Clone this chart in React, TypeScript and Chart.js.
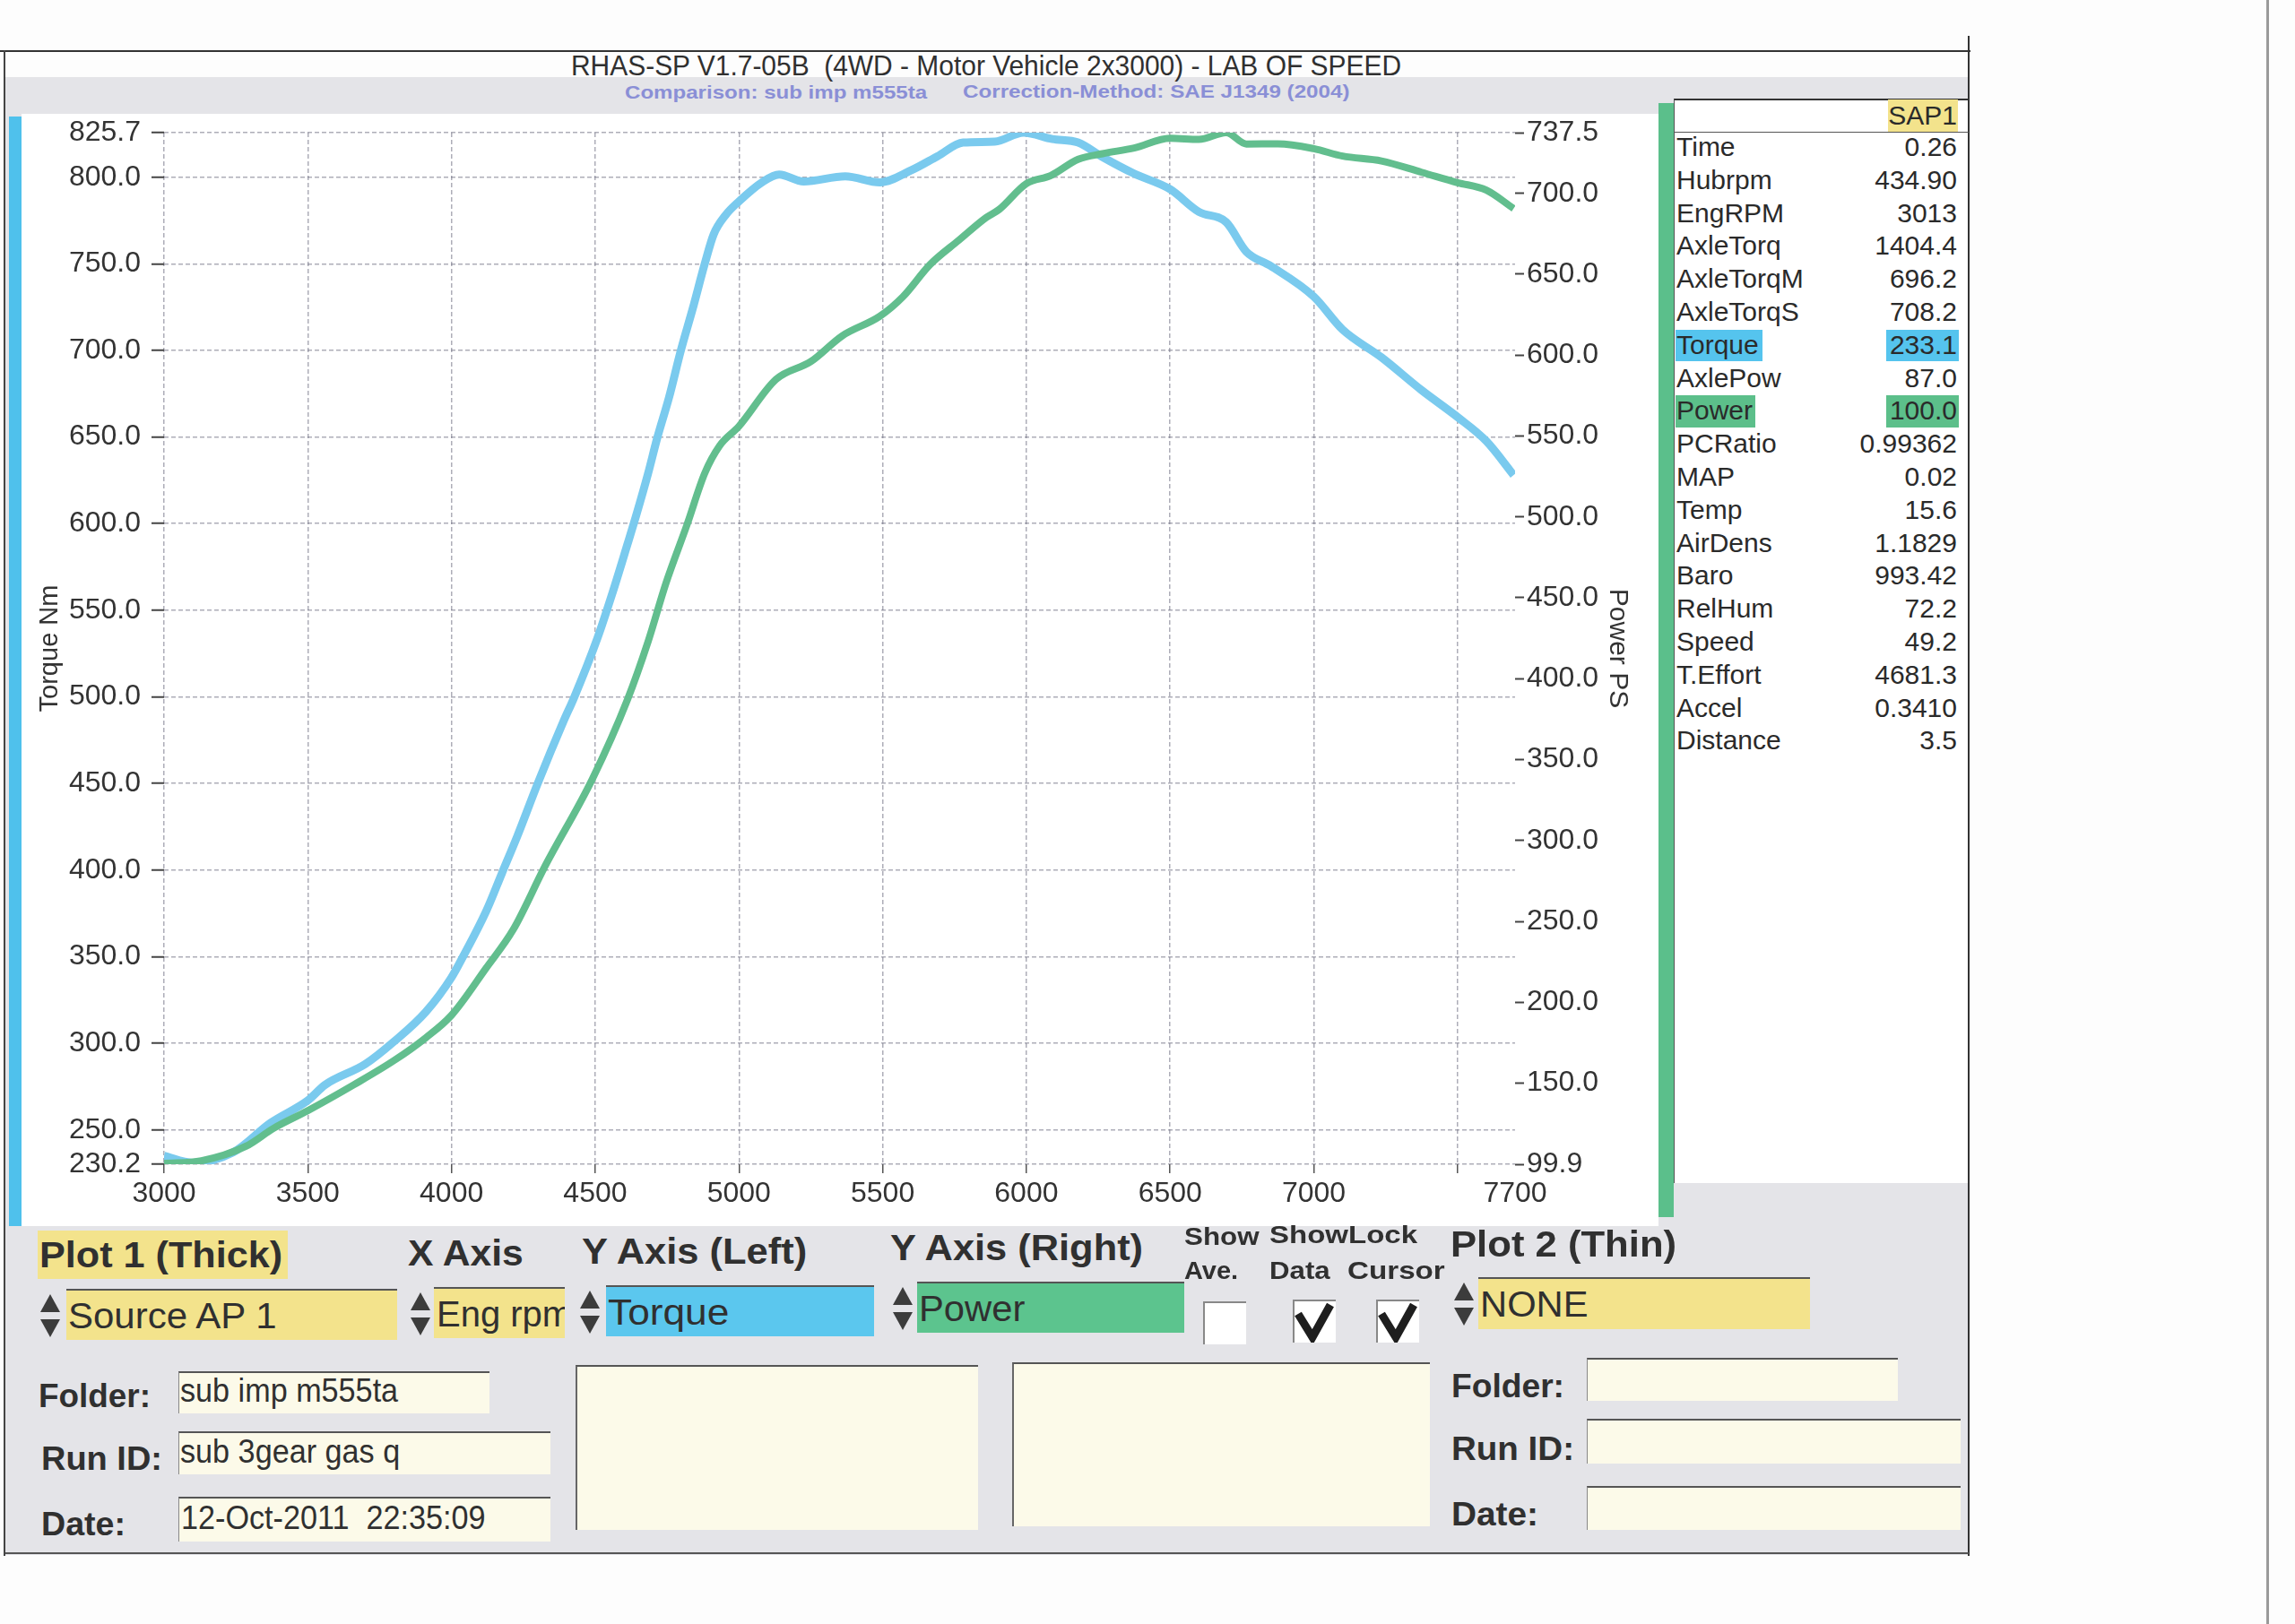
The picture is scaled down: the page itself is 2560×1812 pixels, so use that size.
import React, { useEffect, useLayoutEffect, useRef } from 'react';
import { Chart, registerables } from 'chart.js';

Chart.register(...registerables);

const FONT = '"Liberation Sans", Arial, Helvetica, sans-serif';

// Torque curve (Nm), left axis
const torqueRpm = [3000, 3100, 3240, 3370, 3500, 3560, 3700, 3800, 3910, 4000, 4040, 4120, 4175, 4230, 4300, 4390, 4425, 4508, 4560, 4612, 4643, 4684, 4715, 4757, 4798, 4839, 4881, 4912, 4953, 5000, 5080, 5140, 5225, 5370, 5490, 5600, 5690, 5780, 5890, 5990, 6090, 6180, 6265, 6375, 6500, 6600, 6695, 6765, 6850, 7000, 7100, 7235, 7375, 7500, 7600, 7695];
const torqueNm = [235, 231, 237, 254, 267, 276, 288, 301, 318, 338, 350, 376, 398, 420, 450, 486, 499, 534, 560, 588, 605, 629, 649, 673, 700, 724, 750, 767, 778, 786, 797, 801.5, 797.5, 800.5, 797, 804, 812, 820, 820.5, 825.7, 822, 820, 811.6, 802, 793, 780, 774, 757, 748.7, 731, 712, 696, 677, 661.5, 647.6, 628];

// Power curve (PS), right axis
const powerRpm = [3000, 3130, 3285, 3380, 3500, 3660, 3800, 3910, 4000, 4120, 4215, 4325, 4490, 4612, 4684, 4746, 4819, 4881, 4933, 5000, 5129, 5250, 5360, 5490, 5570, 5665, 5765, 5860, 5905, 6000, 6085, 6180, 6265, 6375, 6500, 6600, 6695, 6765, 6875, 7000, 7100, 7235, 7375, 7500, 7600, 7695];
const powerPs = [100.4, 102, 111, 122, 133, 149, 164, 178, 192, 221, 245, 284, 338, 387, 423, 459, 495, 527, 544, 556, 585, 596, 612, 624, 636, 656, 671, 685, 690, 706, 711, 721, 724.5, 728, 734, 733.3, 737.5, 730.5, 730.6, 727.6, 723, 720, 713, 706.6, 702, 690.6];

const xTicks = [3000, 3500, 4000, 4500, 5000, 5500, 6000, 6500, 7000, 7500, 7700];
const leftTicks = [230.2, 250, 300, 350, 400, 450, 500, 550, 600, 650, 700, 750, 800, 825.7];
const rightTicks = [99.9, 150, 200, 250, 300, 350, 400, 450, 500, 550, 600, 650, 700, 737.5];

const dataLabels = ['Time', 'Hubrpm', 'EngRPM', 'AxleTorq', 'AxleTorqM', 'AxleTorqS', 'Torque', 'AxlePow', 'Power', 'PCRatio', 'MAP', 'Temp', 'AirDens', 'Baro', 'RelHum', 'Speed', 'T.Effort', 'Accel', 'Distance'];
const dataValues = ['0.26', '434.90', '3013', '1404.4', '696.2', '708.2', '233.1', '87.0', '100.0', '0.99362', '0.02', '15.6', '1.1829', '993.42', '72.2', '49.2', '4681.3', '0.3410', '3.5'];

const BLUE = 'rgb(122, 202, 238)';
const GREEN = 'rgb(98, 190, 142)';
const YELLOW = '#f3e38c';
const CREAM = '#fcfae9';

interface FitProps {
  x: number;
  y: number;
  w: number;
  size: number;
  text: string;
  bold?: boolean;
  color?: string;
}

// text squeezed/stretched to the width it has on the scan
const FitText: React.FC<FitProps> = ({ x, y, w, size, text, bold = false, color = '#303030' }) => {
  const ref = useRef<HTMLSpanElement | null>(null);
  useLayoutEffect(() => {
    const el = ref.current;
    if (!el) return;
    el.style.transform = 'translateY(-50%)';
    const nat = el.offsetWidth;
    if (nat > 0) el.style.transform = `translateY(-50%) scaleX(${w / nat})`;
  }, [w, text, size]);
  return (
    <span
      ref={ref}
      style={{
        position: 'absolute', left: x, top: y, fontSize: size, fontWeight: bold ? 700 : 400,
        color, fontFamily: FONT, whiteSpace: 'pre', lineHeight: 1,
        transformOrigin: 'left center', transform: 'translateY(-50%)'
      }}
    >
      {text}
    </span>
  );
};

const Rect: React.FC<{ x: number; y: number; w: number; h: number; style?: React.CSSProperties }> = ({ x, y, w, h, style }) => (
  <div style={{ position: 'absolute', left: x, top: y, width: w, height: h, boxSizing: 'border-box', ...style }} />
);

const Arrows: React.FC<{ x: number; y: number }> = ({ x, y }) => (
  <svg style={{ position: 'absolute', left: x, top: y - 28 }} width={28} height={56} viewBox="0 0 28 56">
    <polygon points="14,4 25,24 3,24" fill="#3c3c3c" />
    <polygon points="14,52 25,32 3,32" fill="#3c3c3c" />
  </svg>
);

const Check: React.FC<{ x: number; y: number; w: number; h: number; on: boolean }> = ({ x, y, w, h, on }) => (
  <div style={{ position: 'absolute', left: x, top: y, width: w, height: h, background: '#fff', borderLeft: '2px solid #888', borderTop: '2px solid #888', boxSizing: 'border-box' }}>
    {on && (
      <svg width={w} height={h} viewBox="0 0 48 48" style={{ position: 'absolute', left: -2, top: -2 }}>
        <polyline points="6,16 22,42 42,6" fill="none" stroke="#1e1e1e" strokeWidth={9} strokeLinejoin="miter" />
      </svg>
    )}
  </div>
);

const DynoChart: React.FC = () => {
  const chartRef = useRef<HTMLCanvasElement | null>(null);
  const chartInstance = useRef<Chart | null>(null);

  useEffect(() => {
    if (!chartRef.current) return;
    if (chartInstance.current) chartInstance.current.destroy();
    const ctx = chartRef.current.getContext('2d');
    if (!ctx) return;

    const tickFont = { family: FONT, size: 32 };

    chartInstance.current = new Chart(ctx, {
      type: 'line',
      data: {
        datasets: [
          {
            label: 'Power',
            data: powerRpm.map((x, i) => ({ x, y: powerPs[i] })),
            yAxisID: 'y1',
            borderColor: GREEN,
            borderWidth: 8,
            pointRadius: 0,
            cubicInterpolationMode: 'monotone',
            fill: false
          },
          {
            label: 'Torque',
            data: torqueRpm.map((x, i) => ({ x, y: torqueNm[i] })),
            yAxisID: 'y',
            borderColor: BLUE,
            borderWidth: 9,
            pointRadius: 0,
            cubicInterpolationMode: 'monotone',
            fill: false
          }
        ]
      },
      options: {
        responsive: true,
        maintainAspectRatio: false,
        animation: false,
        events: [],
        layout: { padding: { top: 38, left: 0, right: 0, bottom: 0 } },
        plugins: {
          legend: { display: false },
          tooltip: { enabled: false },
          title: { display: false }
        },
        scales: {
          x: {
            type: 'linear',
            min: 3000,
            max: 7700,
            afterBuildTicks: (scale) => {
              scale.ticks = xTicks.map(v => ({ value: v }));
            },
            afterFit: (scale) => {
              scale.height = 71;
            },
            ticks: {
              autoSkip: false,
              maxRotation: 0,
              padding: 4,
              color: '#333',
              font: tickFont,
              callback: (v) => (v === 7500 ? '' : String(v))
            },
            grid: {
              color: (c) => (c.tick && c.tick.value === 7700 ? 'rgba(0,0,0,0)' : 'rgba(105,105,125,0.55)'),
              lineWidth: 1.5,
              tickColor: (c) => (c.tick && c.tick.value === 7700 ? 'rgba(0,0,0,0)' : '#555'),
              tickLength: 10,
              tickWidth: 1.5
            },
            border: { display: false, dash: [5, 3] }
          },
          y: {
            type: 'linear',
            position: 'left',
            min: 230.2,
            max: 825.7,
            afterBuildTicks: (scale) => {
              scale.ticks = leftTicks.map(v => ({ value: v }));
            },
            afterFit: (scale) => {
              scale.width = 153;
            },
            ticks: {
              autoSkip: false,
              padding: 12,
              color: '#333',
              font: tickFont,
              callback: (v) => Number(v).toFixed(1)
            },
            grid: {
              color: 'rgba(105,105,125,0.55)',
              lineWidth: 1.5,
              tickColor: '#444',
              tickLength: 14,
              tickWidth: 2
            },
            border: { display: false, dash: [5, 3] },
            title: {
              display: true,
              text: 'Torque Nm',
              color: '#333',
              font: { family: FONT, size: 29 },
              padding: { top: 9, bottom: 0 }
            }
          },
          y1: {
            type: 'linear',
            position: 'right',
            min: 99.9,
            max: 737.5,
            afterBuildTicks: (scale) => {
              scale.ticks = rightTicks.map(v => ({ value: v }));
            },
            afterFit: (scale) => {
              scale.width = 140;
            },
            ticks: {
              autoSkip: false,
              padding: 3,
              color: '#333',
              font: tickFont,
              callback: (v) => Number(v).toFixed(1)
            },
            grid: {
              drawOnChartArea: false,
              tickColor: '#444',
              tickLength: 10,
              tickWidth: 2
            },
            border: { display: false },
            title: {
              display: true,
              text: 'Power PS',
              color: '#333',
              font: { family: FONT, size: 30 },
              padding: { top: 8, bottom: 0 }
            }
          }
        }
      }
    });

    return () => {
      if (chartInstance.current) {
        chartInstance.current.destroy();
        chartInstance.current = null;
      }
    };
  }, []);

  return (
    <div style={{ position: 'absolute', left: 30, top: 110, width: 1800, height: 1260 }}>
      <canvas ref={chartRef} />
    </div>
  );
};

const App: React.FC = () => {
  const rowTop = 164;
  const rowStep = 36.8;

  return (
    <div style={{ position: 'absolute', left: 0, top: 0, width: 2560, height: 1812, background: '#fdfdfd', overflow: 'hidden', fontFamily: FONT }}>
      {/* printout frame and panel */}
      <Rect x={6} y={86} w={2190} h={1649} style={{ background: '#e4e4e8' }} />
      <Rect x={0} y={56} w={2198} h={2} style={{ background: '#333' }} />
      <Rect x={4} y={56} w={2} h={1680} style={{ background: '#444' }} />
      <Rect x={2195} y={40} w={2} h={1696} style={{ background: '#333' }} />
      <Rect x={6} y={1732} w={2190} h={2} style={{ background: '#555' }} />
      <Rect x={2528} y={0} w={3} h={1812} style={{ background: '#9a9a9a' }} />

      {/* header */}
      <FitText x={637} y={73} w={926} size={32} text="RHAS-SP V1.7-05B  (4WD - Motor Vehicle 2x3000) - LAB OF SPEED" />
      <FitText x={697} y={102} w={337} size={21} bold color="#8a8fd6" text="Comparison: sub imp m555ta" />
      <FitText x={1074} y={101} w={432} size={21} bold color="#8a8fd6" text="Correction-Method: SAE J1349 (2004)" />

      {/* plot background and colour strips */}
      <Rect x={24} y={127} w={1826} h={1241} style={{ background: '#ffffff' }} />
      <Rect x={10} y={130} w={14} h={1238} style={{ background: '#4fc1ec' }} />
      <Rect x={1850} y={115} w={17} h={1243} style={{ background: '#5bbf8b' }} />

      <DynoChart />

      {/* data table */}
      <Rect x={1867} y={110} w={330} h={1210} style={{ background: '#ffffff', borderTop: '2px solid #333', borderLeft: '1px solid #555', borderRight: '2px solid #333' }} />
      <Rect x={1868} y={147} w={328} h={1} style={{ background: '#555' }} />
      <Rect x={2106} y={111} w={78} h={36} style={{ background: YELLOW }} />
      <div style={{ position: 'absolute', left: 2090, top: 129, width: 93, textAlign: 'right', transform: 'translateY(-50%)', fontSize: 30, color: '#2a2a2a', lineHeight: 1 }}>SAP1</div>
      <Rect x={1869} y={368} w={97} h={35} style={{ background: '#55c4ee' }} />
      <Rect x={2104} y={368} w={81} h={35} style={{ background: '#55c4ee' }} />
      <Rect x={1869} y={441} w={89} h={36} style={{ background: '#5cbf8a' }} />
      <Rect x={2104} y={441} w={81} h={36} style={{ background: '#5cbf8a' }} />
      {dataLabels.map((lab, i) => (
        <React.Fragment key={lab}>
          <div style={{ position: 'absolute', left: 1870, top: rowTop + i * rowStep, transform: 'translateY(-50%)', fontSize: 30, color: '#2a2a2a', lineHeight: 1, whiteSpace: 'nowrap' }}>{lab}</div>
          <div style={{ position: 'absolute', left: 2020, width: 163, top: rowTop + i * rowStep, transform: 'translateY(-50%)', textAlign: 'right', fontSize: 30, color: '#2a2a2a', lineHeight: 1, whiteSpace: 'nowrap' }}>{dataValues[i]}</div>
        </React.Fragment>
      ))}

      {/* control panel */}
      <Rect x={42} y={1373} w={279} h={54} style={{ background: YELLOW }} />
      <FitText x={44} y={1400} w={271} size={40} bold text="Plot 1 (Thick)" />
      <FitText x={455} y={1398} w={129} size={40} bold text="X Axis" />
      <FitText x={649} y={1396} w={251} size={40} bold text="Y Axis (Left)" />
      <FitText x={993} y={1392} w={282} size={40} bold text="Y Axis (Right)" />
      <FitText x={1321} y={1380} w={84} size={28} bold text="Show" />
      <FitText x={1321} y={1418} w={60} size={28} bold text="Ave." />
      <FitText x={1416} y={1378} w={165} size={28} bold text="ShowLock" />
      <FitText x={1416} y={1418} w={68} size={28} bold text="Data" />
      <FitText x={1503} y={1418} w={109} size={28} bold text="Cursor" />
      <FitText x={1618} y={1388} w={252} size={40} bold text="Plot 2 (Thin)" />

      <Arrows x={42} y={1468} />
      <Rect x={74} y={1438} w={369} h={57} style={{ background: YELLOW, borderTop: '2px solid #555' }} />
      <FitText x={76} y={1468} w={233} size={40} text="Source AP 1" />

      <Arrows x={455} y={1466} />
      <div style={{ position: 'absolute', left: 484, top: 1436, width: 146, height: 57, background: YELLOW, borderTop: '2px solid #555', overflow: 'hidden', boxSizing: 'border-box' }}>
        <span style={{ position: 'absolute', left: 3, top: 28, transform: 'translateY(-50%)', fontSize: 40, color: '#303030', lineHeight: 1, whiteSpace: 'nowrap' }}>Eng rpm</span>
      </div>

      <Arrows x={644} y={1464} />
      <Rect x={676} y={1434} w={299} h={57} style={{ background: '#5bc7ee', borderTop: '2px solid #555' }} />
      <FitText x={678} y={1464} w={135} size={40} text="Torque" />

      <Arrows x={993} y={1460} />
      <Rect x={1023} y={1430} w={298} h={57} style={{ background: '#5cc48e', borderTop: '2px solid #555' }} />
      <FitText x={1025} y={1460} w={118} size={40} text="Power" />

      <Check x={1342} y={1452} w={48} h={48} on={false} />
      <Check x={1442} y={1450} w={48} h={48} on />
      <Check x={1535} y={1450} w={48} h={48} on />

      <Arrows x={1619} y={1455} />
      <Rect x={1649} y={1425} w={370} h={58} style={{ background: YELLOW, borderTop: '2px solid #555' }} />
      <FitText x={1651} y={1455} w={121} size={40} text="NONE" />

      <FitText x={43} y={1558} w={125} size={36} bold text="Folder:" />
      <FitText x={46} y={1628} w={135} size={36} bold text="Run ID:" />
      <FitText x={46} y={1701} w={94} size={36} bold text="Date:" />
      <Rect x={199} y={1530} w={347} h={47} style={{ background: CREAM, borderTop: '2px solid #555', borderLeft: '1px solid #888' }} />
      <Rect x={199} y={1597} w={415} h={48} style={{ background: CREAM, borderTop: '2px solid #555', borderLeft: '1px solid #888' }} />
      <Rect x={199} y={1670} w={415} h={50} style={{ background: CREAM, borderTop: '2px solid #555', borderLeft: '1px solid #888' }} />
      <FitText x={201} y={1552} w={243} size={36} text="sub imp m555ta" />
      <FitText x={201} y={1620} w={245} size={36} text="sub 3gear gas q" />
      <FitText x={202} y={1694} w={340} size={36} text="12-Oct-2011  22:35:09" />

      <Rect x={642} y={1523} w={449} h={184} style={{ background: CREAM, borderTop: '2px solid #555', borderLeft: '2px solid #666' }} />
      <Rect x={1129} y={1520} w={466} h={183} style={{ background: CREAM, borderTop: '2px solid #555', borderLeft: '2px solid #666' }} />

      <FitText x={1619} y={1547} w={126} size={36} bold text="Folder:" />
      <FitText x={1619} y={1617} w={137} size={36} bold text="Run ID:" />
      <FitText x={1619} y={1690} w={97} size={36} bold text="Date:" />
      <Rect x={1770} y={1515} w={347} h={48} style={{ background: CREAM, borderTop: '2px solid #555', borderLeft: '1px solid #888' }} />
      <Rect x={1770} y={1583} w={417} h={50} style={{ background: CREAM, borderTop: '2px solid #555', borderLeft: '1px solid #888' }} />
      <Rect x={1770} y={1658} w={417} h={49} style={{ background: CREAM, borderTop: '2px solid #555', borderLeft: '1px solid #888' }} />
    </div>
  );
};

export default App;
